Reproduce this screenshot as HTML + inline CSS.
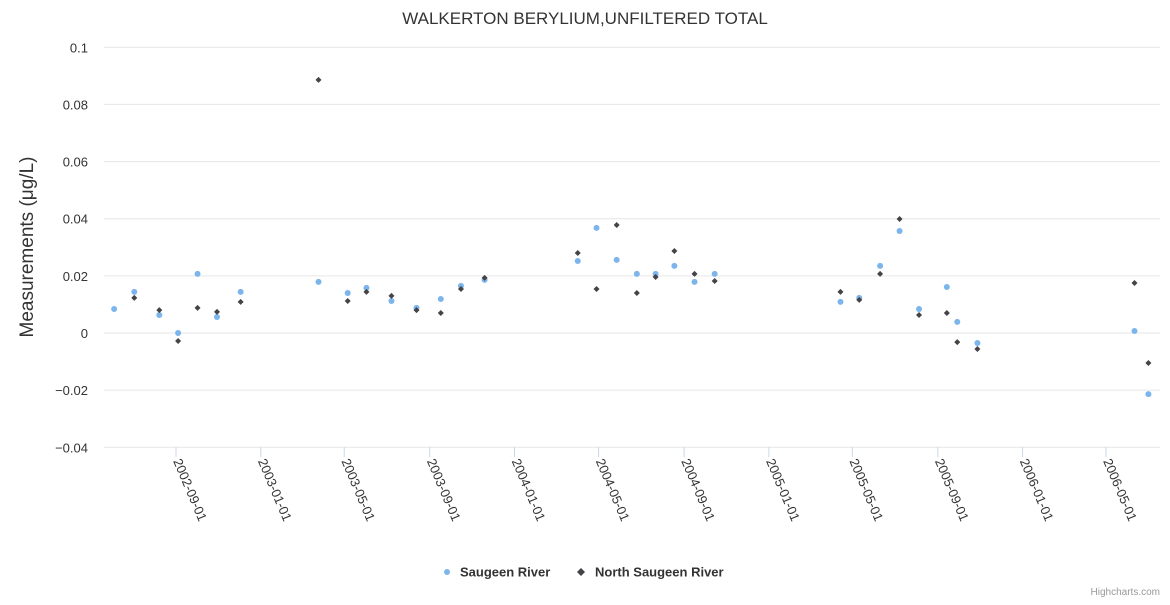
<!DOCTYPE html>
<html><head><meta charset="utf-8">
<style>
body{margin:0;background:#fff;font-family:"Liberation Sans",Arial,sans-serif;}
svg text{font-family:"Liberation Sans",Arial,sans-serif;}
</style></head>
<body>
<svg id="chart" width="1170" height="600" xmlns="http://www.w3.org/2000/svg">
<rect width="1170" height="600" fill="#fff"/>
<text x="585" y="24" text-anchor="middle" font-size="17" fill="#333">WALKERTON BERYLIUM,UNFILTERED TOTAL</text>
<text transform="translate(33,247) rotate(-90)" text-anchor="middle" font-size="19" fill="#333">Measurements (μg/L)</text>
<g id="grid"></g><g id="xaxis"></g><g id="marks"></g>
<g>
<g><circle cx="447" cy="572" r="3" fill="#7cb5ec"/><text x="460" y="576.5" font-size="13" font-weight="bold" fill="#333">Saugeen River</text></g>
<g><path d="M581 568 L585 572 L581 576 L577 572Z" fill="#434348"/><text x="595" y="576.5" font-size="13" font-weight="bold" fill="#333">North Saugeen River</text></g>
</g>
<text x="1160" y="595" text-anchor="end" font-size="10" fill="#999">Highcharts.com</text>
</svg>
<script>
const dates=["2002-06-04","2002-07-03","2002-08-08","2002-09-04","2002-10-02","2002-10-30","2002-12-03","2003-03-25","2003-05-06","2003-06-02","2003-07-08","2003-08-13","2003-09-17","2003-10-16","2003-11-19","2004-04-01","2004-04-28","2004-05-27","2004-06-25","2004-07-22","2004-08-18","2004-09-16","2004-10-15","2005-04-14","2005-05-11","2005-06-10","2005-07-08","2005-08-05","2005-09-14","2005-09-29","2005-10-28","2006-06-11","2006-07-01"];
const saugeen=[0.0084,0.0144,0.0063,0,0.0207,0.0056,0.0144,0.0179,0.014,0.0158,0.0112,0.0088,0.0119,0.0165,0.0186,0.0252,0.0368,0.0256,0.0207,0.0207,0.0235,0.0179,0.0207,0.0109,0.0123,0.0235,0.0357,0.0084,0.0161,0.0039,-0.0035,0.0007,-0.0214];
const northSaugeen=[null,0.0123,0.008,-0.0028,0.0088,0.0074,0.0109,0.0886,0.0112,0.0144,0.013,0.008,0.007,0.0154,0.0193,0.028,0.0154,0.0378,0.014,0.0196,0.0287,0.0207,0.0182,0.0144,0.0116,0.0207,0.0399,0.0063,0.007,-0.0032,-0.0056,0.0175,-0.0105];
const yTicks=[-0.04,-0.02,0,0.02,0.04,0.06,0.08,0.1];
const yTickLabels=["−0.04","−0.02","0","0.02","0.04","0.06","0.08","0.1"];
const xTicks=["2002-09-01","2003-01-01","2003-05-01","2003-09-01","2004-01-01","2004-05-01","2004-09-01","2005-01-01","2005-05-01","2005-09-01","2006-01-01","2006-05-01"];
const NS="http://www.w3.org/2000/svg";
const t0=Date.parse("2002-09-01"),t1=Date.parse("2006-05-01");
function xS(d){return 176+(Date.parse(d)-t0)/(t1-t0)*(1106-176);}
function yS(v){return 333-v*2857.14;}
function mk(tag,attrs,parent){const e=document.createElementNS(NS,tag);for(const k in attrs)e.setAttribute(k,attrs[k]);parent.appendChild(e);return e;}
const grid=document.getElementById('grid'),xa=document.getElementById('xaxis'),marks=document.getElementById('marks');
yTicks.forEach((v,i)=>{
 const l=mk('line',{x1:104,x2:1160,y1:yS(v),y2:yS(v),stroke:'#e6e6e6','stroke-width':1},grid);
 
 
 const t=mk('text',{x:88,y:yS(v)+5,'text-anchor':'end','font-size':13,fill:'#333'},grid);
 t.textContent=yTickLabels[i];
 
 
});
xTicks.forEach(d=>{
 const x=xS(d);
 const l=mk('line',{x1:x,x2:x,y1:447,y2:457,stroke:'#ccd6eb','stroke-width':1},xa);
 
 
 const t=mk('text',{transform:`translate(${x-3},${461}) rotate(67)`,'font-size':13,fill:'#333'},xa);
 t.textContent=d;
 
 
});
dates.forEach((d,i)=>{
 const x=xS(d);
 if(saugeen[i]!==null){
  const c=mk('circle',{cx:x,cy:yS(saugeen[i]),r:3,fill:'#7cb5ec'},marks);
  
  
 }
 if(northSaugeen[i]!==null){
  const y=yS(northSaugeen[i]);
  const p=mk('path',{d:`M${x} ${y-3} L${x+3} ${y} L${x} ${y+3} L${x-3} ${y}Z`,fill:'#434348'},marks);
  
  
 }
});
</script>
</body></html>
